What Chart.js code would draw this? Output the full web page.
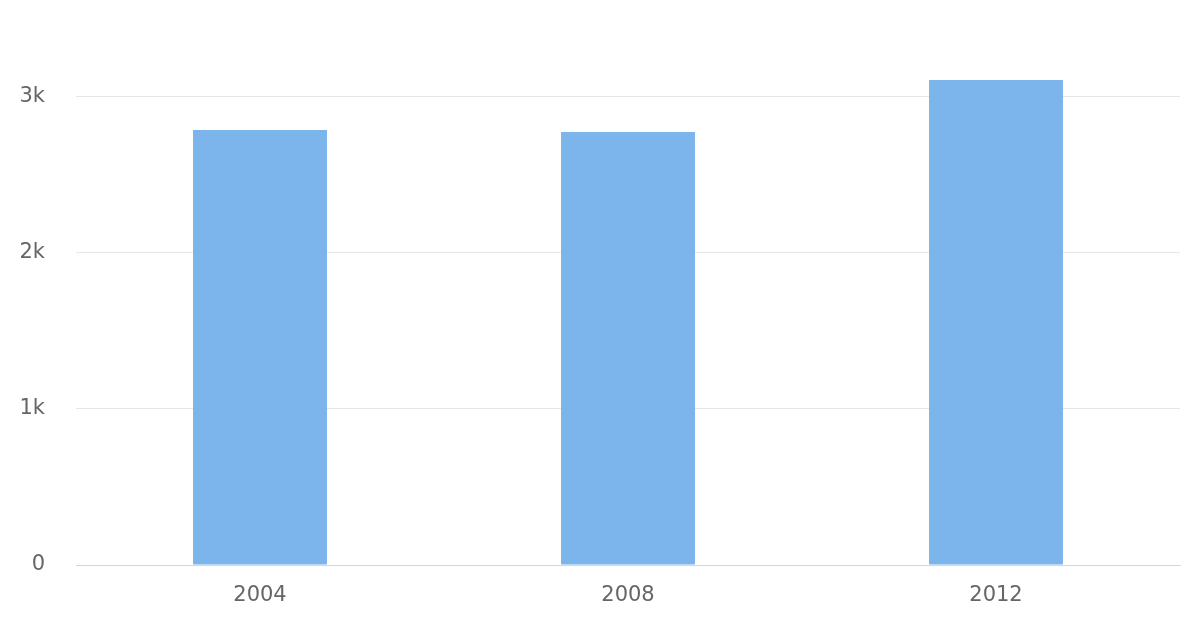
<!DOCTYPE html>
<html>
<head>
<meta charset="utf-8">
<script src="https://cdn.jsdelivr.net/npm/chart.js@4"></script>
<style>
  html, body { margin: 0; padding: 0; background: #fff; }
  #wrap { width: 1200px; height: 640px; }
</style>
</head>
<body>
<div id="wrap"><canvas id="chart" width="1200" height="640"></canvas></div>
<script>
// Chart data
const years = ['2004', '2008', '2012'];
const values = [2788, 2776, 3109];
const yTicks = [0, 1000, 2000, 3000];
const tickText = ['0', '1k', '2k', '3k'];

const ctx = document.getElementById('chart').getContext('2d');
new Chart(ctx, {
    type: 'bar',
    data: {
        labels: years,
        datasets: [{
            data: values,
            backgroundColor: '#7cb5ec',
            barPercentage: 0.364,
            categoryPercentage: 1
        }]
    },
    options: {
        responsive: false,
        animation: false,
        devicePixelRatio: 1,
        layout: { padding: { top: 19, right: 20, left: 1, bottom: 0 } },
        plugins: { legend: { display: false }, tooltip: { enabled: false } },
        scales: {
            x: {
                grid: { display: false },
                border: { color: '#ccd6eb', width: 1 },
                ticks: { color: '#666666', font: { family: 'DejaVu Sans', size: 21 }, padding: 10 },
                afterFit: function (axis) { axis.height = 75; }
            },
            y: {
                min: 0,
                max: 3342, // plot area starts ~44px down, keeps 3k gridline at the right height
                border: { display: false },
                grid: {
                    drawTicks: false,
                    color: function (c) { return c.tick && c.tick.value === 0 ? '#ccd6eb' : '#e6e6e6'; }
                },
                ticks: {
                    stepSize: 1000,
                    padding: 31,
                    color: '#666666',
                    font: { family: 'DejaVu Sans', size: 21 },
                    callback: function (v) { return tickText[yTicks.indexOf(v)]; }
                },
                afterBuildTicks: function (axis) {
                    axis.ticks = yTicks.map(function (v) { return { value: v }; });
                },
                afterFit: function (axis) { axis.width = 75; }
            }
        }
    }
});
</script>
</body>
</html>
